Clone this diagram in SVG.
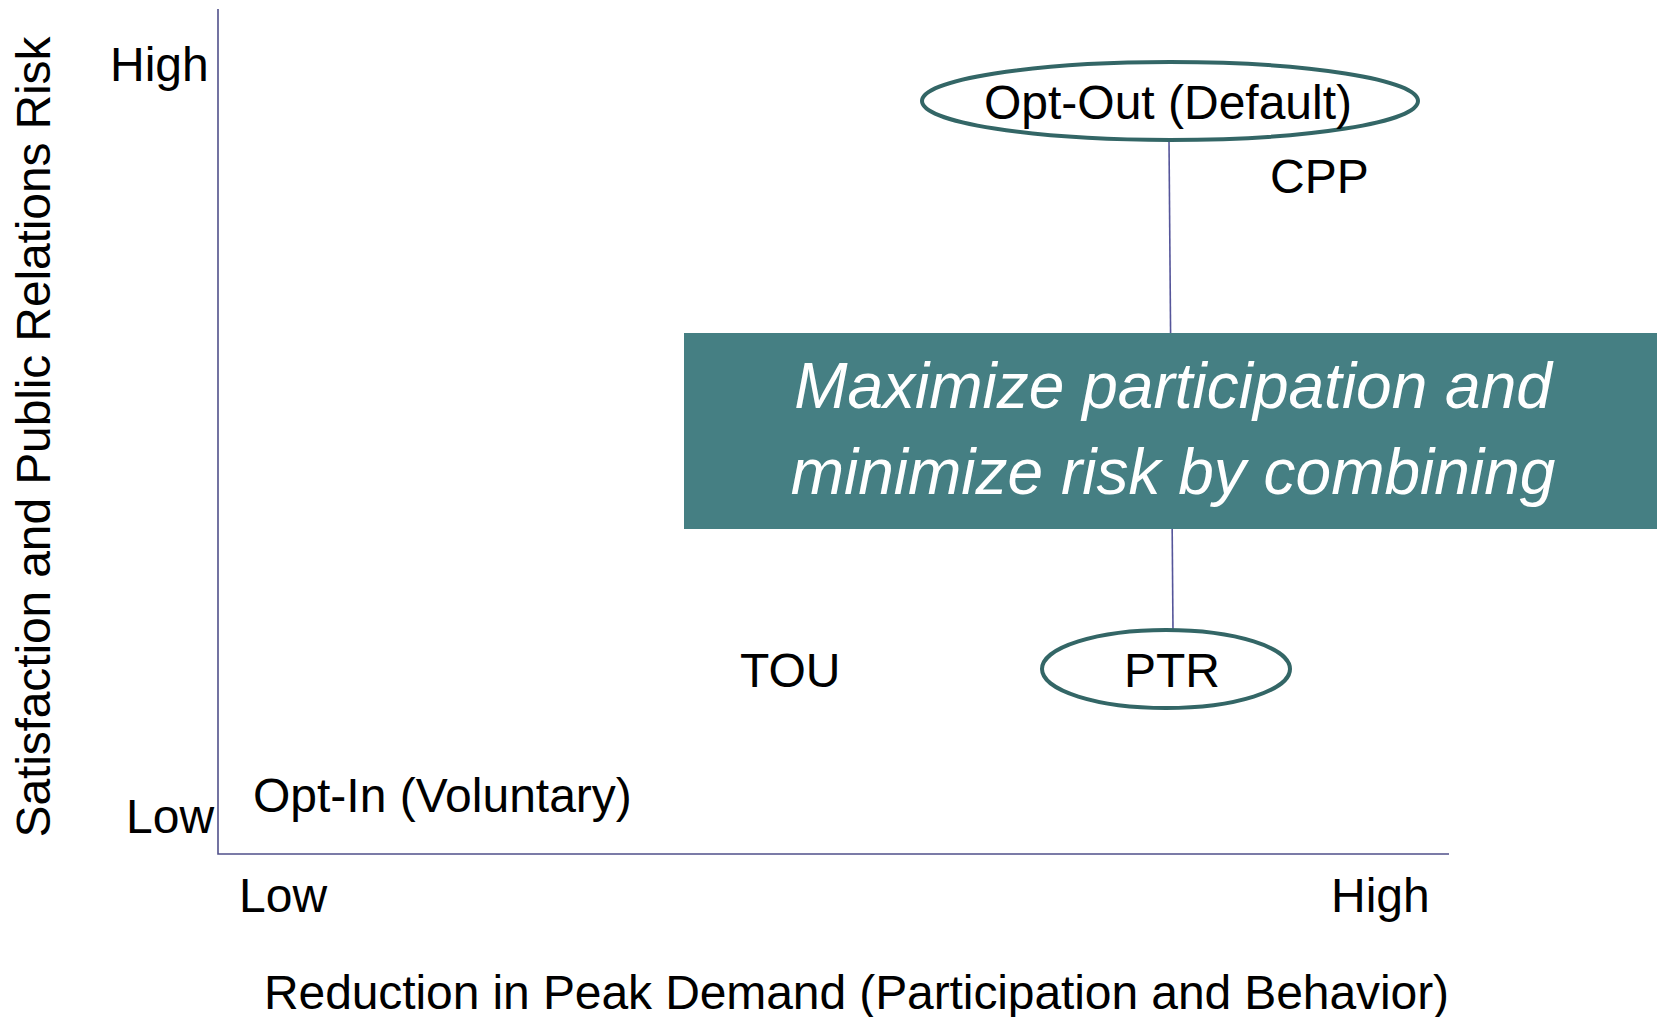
<svg xmlns="http://www.w3.org/2000/svg" width="1657" height="1017" viewBox="0 0 1657 1017">
<style>
text{font-family:"Liberation Sans",Arial,sans-serif;fill:#000;font-size:48px}
.mid{text-anchor:middle}
.axis{stroke:#50508a;stroke-width:1.6;fill:none}
.conn{stroke:#55559a;stroke-width:1.6;fill:none}
.oval{fill:#fff;stroke:#336666;stroke-width:4}
.box{fill:#457f83}
.boxtxt{fill:#fff;font-style:italic;font-size:64px;text-anchor:middle}
</style>
<rect width="1657" height="1017" fill="#fff"/>
<g id="axes">
<path class="axis" d="M218 9 V854 H1449"/>
<text x="110" y="81">High</text>
<text x="126" y="833">Low</text>
<text x="239" y="912">Low</text>
<text x="1331" y="912">High</text>
<text x="264" y="1009" textLength="1185">Reduction in Peak Demand (Participation and Behavior)</text>
<text class="mid" transform="translate(50 437) rotate(-90)" textLength="801">Satisfaction and Public Relations Risk</text>
</g>
<g id="connectors">
<line class="conn" x1="1169" y1="140" x2="1173" y2="630"/>
</g>
<g id="opt-out">
<ellipse class="oval" cx="1170" cy="101" rx="248" ry="39"/>
<text class="mid" x="1168" y="119">Opt-Out (Default)</text>
</g>
<g id="cpp"><text x="1270" y="193">CPP</text></g>
<g id="message">
<rect class="box" x="684" y="333" width="973" height="196"/>
<text class="boxtxt" x="1173" y="408">Maximize participation and</text>
<text class="boxtxt" x="1173" y="494">minimize risk by combining</text>
</g>
<g id="tou"><text x="740" y="687">TOU</text></g>
<g id="ptr">
<ellipse class="oval" cx="1166" cy="669" rx="124" ry="39"/>
<text class="mid" x="1172" y="687">PTR</text>
</g>
<g id="opt-in"><text x="253" y="812">Opt-In (Voluntary)</text></g>
</svg>
